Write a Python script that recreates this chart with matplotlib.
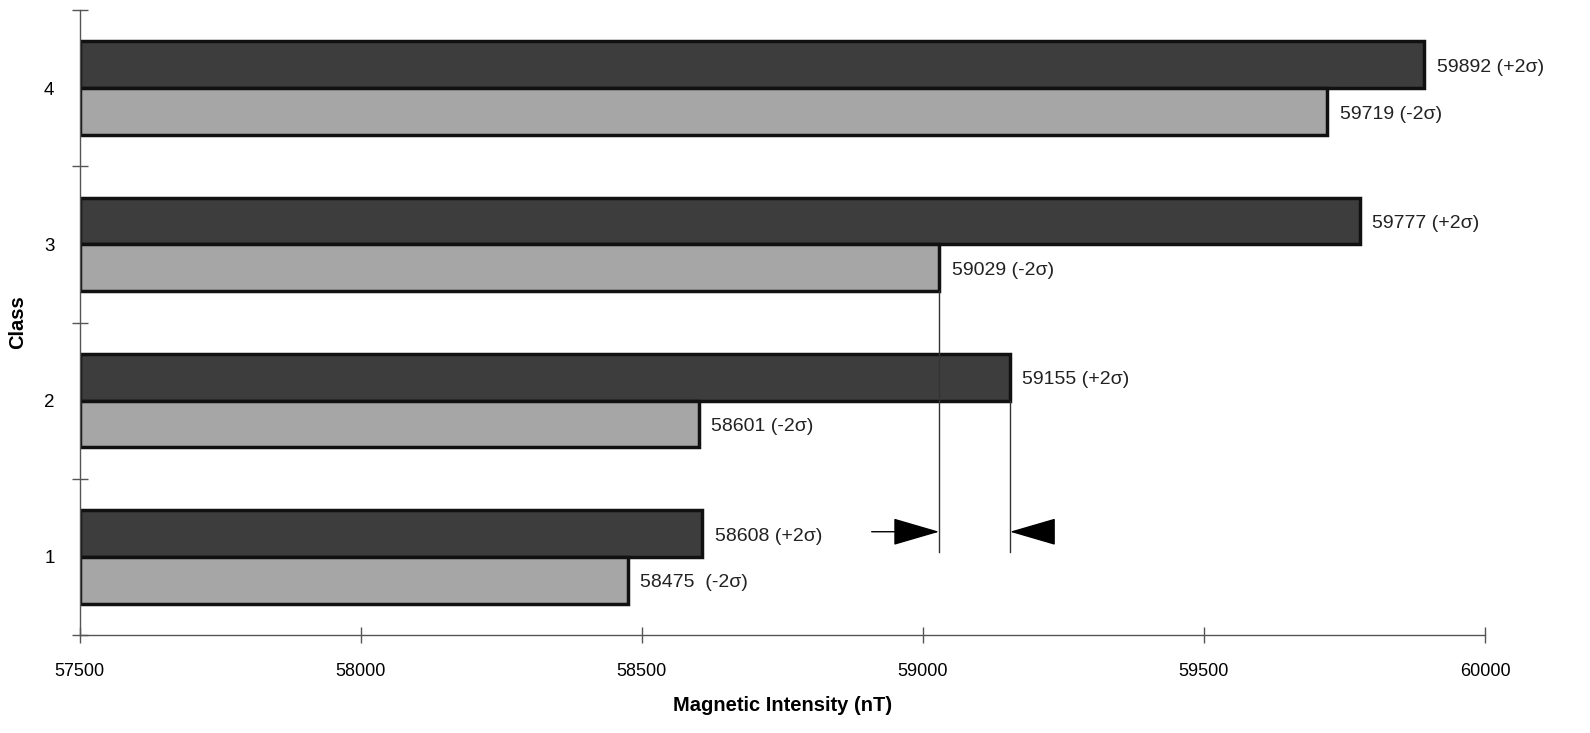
import numpy as np
import matplotlib.pyplot as plt

plt.rcParams['font.family'] = ['Liberation Sans', 'DejaVu Sans']

classes = [1, 2, 3, 4]
plus_2sigma = [58608, 59155, 59777, 59892]
minus_2sigma = [58475, 58601, 59029, 59719]
plus_labels = ['58608 (+2σ)', '59155 (+2σ)', '59777 (+2σ)', '59892 (+2σ)']
minus_labels = ['58475  (-2σ)', '58601 (-2σ)', '59029 (-2σ)', '59719 (-2σ)']
x_min, x_max = 57500, 60000

fig = plt.figure(figsize=(15.9, 7.33), dpi=100)
ax = fig.add_axes([0.05, 0.134, 0.884, 0.852])

y = np.array(classes, dtype=float)
h = 0.3
ax.barh(y + h / 2, np.array(plus_2sigma) - x_min, left=x_min, height=h,
        color='#3d3d3d', edgecolor='#111111', linewidth=2.5)
ax.barh(y - h / 2, np.array(minus_2sigma) - x_min, left=x_min, height=h,
        color='#a6a6a6', edgecolor='#111111', linewidth=2.5)

for yy, v, lab in zip(y + h / 2, plus_2sigma, plus_labels):
    ax.annotate(lab, (v, yy), xytext=(9, -2), textcoords='offset points',
                va='center', ha='left', fontsize=14, color='#222222')
for yy, v, lab in zip(y - h / 2, minus_2sigma, minus_labels):
    ax.annotate(lab, (v, yy), xytext=(9, -2), textcoords='offset points',
                va='center', ha='left', fontsize=14, color='#222222')

# gap between class 3 (-2σ) and class 2 (+2σ)
y_arrow = 1.16
ax.plot([minus_2sigma[2]] * 2, [3 - h, 1.03], color='#333333', lw=1)
ax.plot([plus_2sigma[1]] * 2, [2.0, 1.03], color='#333333', lw=1)
arrow = dict(arrowstyle='-|>,head_length=1.2,head_width=0.35', mutation_scale=25,
             color='black', lw=1, shrinkA=0, shrinkB=0)
ax.annotate('', xy=(minus_2sigma[2], y_arrow), xytext=(minus_2sigma[2] - 120, y_arrow),
            arrowprops=arrow)
ax.annotate('', xy=(plus_2sigma[1], y_arrow), xytext=(plus_2sigma[1] + 40, y_arrow),
            arrowprops=arrow)

ax.set_xlim(x_min, x_max)
ax.set_ylim(0.5, 4.5)
ax.set_xticks(np.arange(57500, 60001, 500))
ax.set_yticks([0.5, 1.5, 2.5, 3.5, 4.5])
ax.set_yticklabels([])
ax.set_yticks(classes, minor=True)
ax.set_yticklabels([str(c) for c in classes], minor=True, fontsize=13.5)
ax.tick_params(axis='y', which='minor', length=0, pad=18)
ax.tick_params(axis='y', which='major', direction='inout', length=12, width=1, color='#555555')
ax.tick_params(axis='x', direction='inout', length=12, width=1, color='#555555',
               pad=14, labelsize=13)

for s in ['top', 'right']:
    ax.spines[s].set_visible(False)
for s in ['left', 'bottom']:
    ax.spines[s].set_color('#555555')
    ax.spines[s].set_linewidth(1)

ax.set_xlabel('Magnetic Intensity (nT)', fontsize=14.5, fontweight='bold', labelpad=12)
ax.set_ylabel('Class', fontsize=14.5, fontweight='bold', labelpad=12)

fig.savefig('out.png', dpi=100)
